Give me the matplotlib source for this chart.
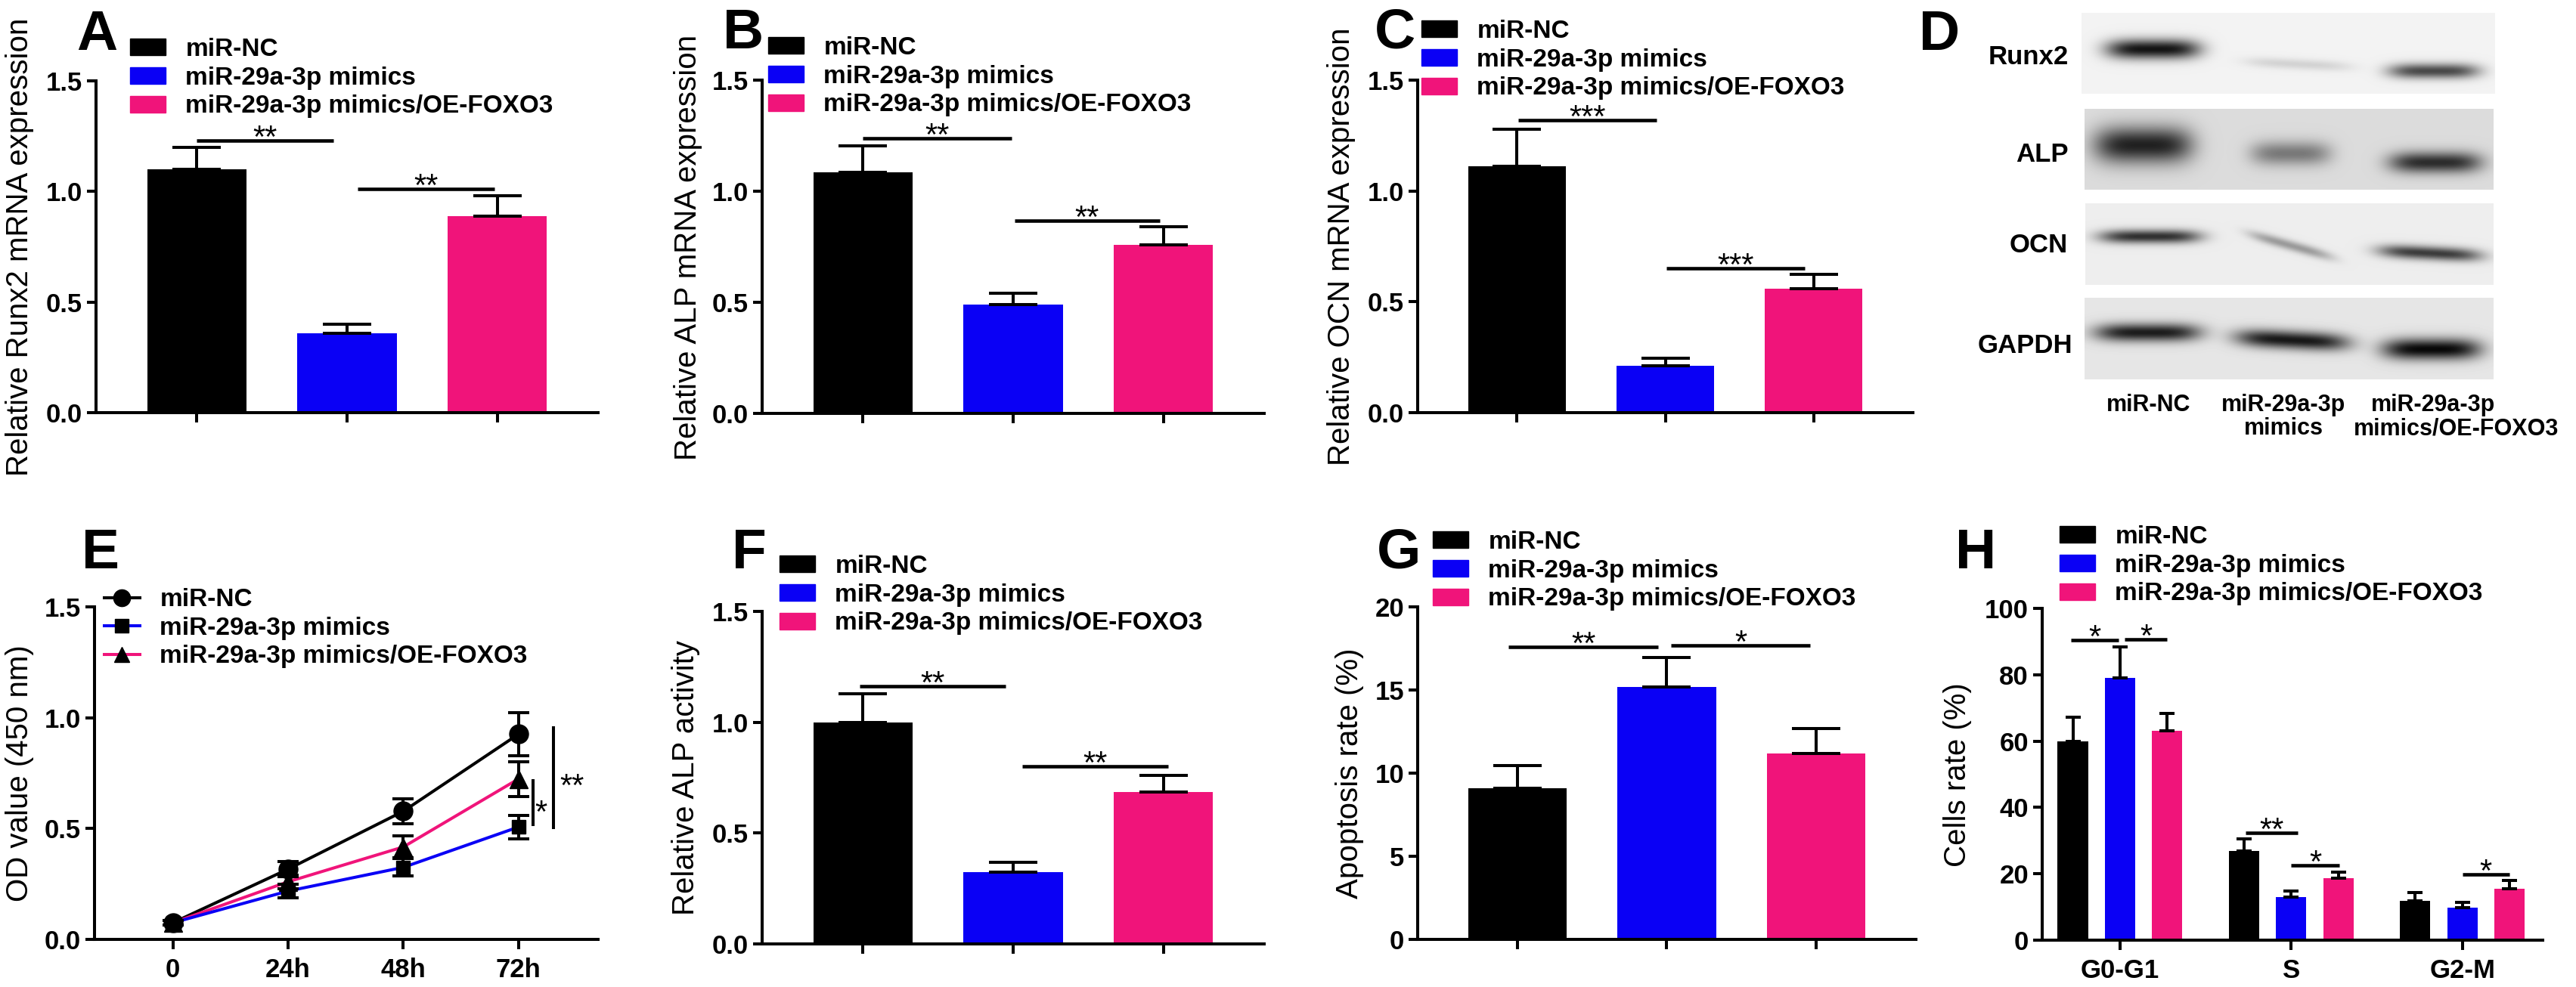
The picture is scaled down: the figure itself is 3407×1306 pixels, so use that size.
import numpy as np
import matplotlib.pyplot as plt
from matplotlib.patches import Patch
from matplotlib.lines import Line2D

plt.rcParams['font.family'] = ['Liberation Sans', 'DejaVu Sans']

W, H = 3407, 1306

groups = ['miR-NC', 'miR-29a-3p mimics', 'miR-29a-3p mimics/OE-FOXO3']
colors = ['#000000', '#0A00F5', '#F0147A']

# bar panels (mean, SD)
runx2 = [1.10, 0.36, 0.89]
runx2_err = [0.10, 0.04, 0.09]
alp_mrna = [1.085, 0.49, 0.76]
alp_mrna_err = [0.12, 0.05, 0.08]
ocn = [1.11, 0.21, 0.56]
ocn_err = [0.17, 0.035, 0.065]
alp_act = [1.00, 0.325, 0.685]
alp_act_err = [0.13, 0.043, 0.075]
apoptosis = [9.1, 15.2, 11.2]
apoptosis_err = [1.35, 1.75, 1.5]

# significance bars: (x from, x to, y, text)
sig_a = [(0.0, 0.91, 1.23, '**'), (1.07, 1.98, 1.01, '**')]
sig_b = [(0.0, 0.99, 1.237, '**'), (1.01, 1.975, 0.868, '**')]
sig_c = [(0.01, 0.94, 1.32, '***'), (1.01, 1.94, 0.65, '***')]
sig_f = [(-0.02, 0.95, 1.163, '**'), (1.06, 2.03, 0.80, '**')]
sig_g = [(-0.06, 0.94, 17.6, '**'), (1.03, 1.96, 17.7, '*')]
sig_h = [(-0.287, -0.01, 90.5, '*'), (0.026, 0.274, 90.7, '*'),
         (0.733, 1.037, 32.4, '**'), (1.0, 1.28, 22.6, '*'), (2.0, 2.274, 19.8, '*')]

# E: OD value over time
time_labels = ['0', '24h', '48h', '72h']
od_nc = [0.075, 0.317, 0.578, 0.926]
od_nc_err = [0.01, 0.035, 0.057, 0.096]
od_mim = [0.075, 0.218, 0.325, 0.507]
od_mim_err = [0.01, 0.03, 0.04, 0.053]
od_oe = [0.075, 0.26, 0.417, 0.724]
od_oe_err = [0.01, 0.03, 0.05, 0.078]

# H: cell cycle
phases = ['G0-G1', 'S', 'G2-M']
cycle_nc = [60.0, 26.9, 11.8]
cycle_nc_err = [7.3, 3.6, 2.5]
cycle_mim = [79.1, 12.9, 9.7]
cycle_mim_err = [9.2, 1.9, 1.7]
cycle_oe = [63.0, 18.6, 15.4]
cycle_oe_err = [5.4, 1.9, 2.7]

# D: western blot band darkness per lane
blot_proteins = ['Runx2', 'ALP', 'OCN', 'GAPDH']
blot_intensity = [[0.92, 0.13, 0.70],
                  [0.85, 0.45, 0.80],
                  [0.80, 0.35, 0.75],
                  [0.88, 0.90, 0.97]]

LW = 2.9
fig = plt.figure(figsize=(W / 100, H / 100), dpi=100)


def px_axes(x0, x1, y0, y1):
    return fig.add_axes([x0 / W, 1 - y1 / H, (x1 - x0) / W, (y1 - y0) / H])


def style(ax):
    ax.spines[['top', 'right']].set_visible(False)
    ax.spines[['left', 'bottom']].set_linewidth(LW)
    ax.tick_params(axis='both', width=LW, length=9, direction='out')
    ax.tick_params(axis='y', pad=4)
    ax.tick_params(axis='x', pad=8)


def legend(ax, handles, x, y, hl=1.4):
    ax.legend(handles, groups, loc='upper left', bbox_to_anchor=(x / W, 1 - y / H),
              bbox_transform=fig.transFigure, frameon=False,
              prop={'weight': 'bold', 'size': 24}, handlelength=hl, handleheight=0.65,
              handletextpad=0.8, labelspacing=0.2, borderpad=0, borderaxespad=0)


def stars(ax, x, y, s, above=11):
    ax.annotate(s, (x, y), xytext=(0, above - 0.58 * 30), textcoords='offset points',
                ha='center', va='baseline', fontsize=30, annotation_clip=False)


def sig(ax, items):
    for x1, x2, y, s in items:
        ax.plot([x1, x2], [y, y], color='k', lw=LW + 0.4, clip_on=False, solid_capstyle='butt')
        stars(ax, (x1 + x2) / 2, y, s)


def ylab(text, x, y):
    fig.text(x / W, 1 - y / H, text, rotation=90, ha='center', va='center', fontsize=29)


def letter(s, x, y):
    fig.text(x / W, 1 - y / H, s, ha='center', va='baseline', fontsize=54, fontweight='bold')


bar_panels = [
    dict(box=(127, 791, 107, 546), m=runx2, e=runx2_err, ymax=1.5, step=0.5, fmt='{:.1f}',
         yl='Relative Runx2 mRNA expression', yl_xy=(26, 327), leg=(172, 50),
         let='A', let_xy=(128, 66), sig=sig_a),
    dict(box=(1008, 1672, 106, 547), m=alp_mrna, e=alp_mrna_err, ymax=1.5, step=0.5, fmt='{:.1f}',
         yl='Relative ALP mRNA expression', yl_xy=(910, 327), leg=(1016, 48),
         let='B', let_xy=(983, 64), sig=sig_b),
    dict(box=(1875, 2530, 106, 546), m=ocn, e=ocn_err, ymax=1.5, step=0.5, fmt='{:.1f}',
         yl='Relative OCN mRNA expression', yl_xy=(1774, 326), leg=(1880, 26),
         let='C', let_xy=(1845, 64), sig=sig_c),
    dict(box=(1008, 1672, 809, 1249), m=alp_act, e=alp_act_err, ymax=1.5, step=0.5, fmt='{:.1f}',
         yl='Relative ALP activity', yl_xy=(907, 1029), leg=(1031, 734),
         let='F', let_xy=(991, 752), sig=sig_f),
    dict(box=(1875, 2534, 803, 1243), m=apoptosis, e=apoptosis_err, ymax=20, step=5, fmt='{:.0f}',
         yl='Apoptosis rate (%)', yl_xy=(1785, 1023), leg=(1895, 702),
         let='G', let_xy=(1850, 752), sig=sig_g),
]

for p in bar_panels:
    ax = px_axes(*p['box'])
    x = np.arange(3)
    ax.bar(x, p['m'], width=0.66, color=colors)
    ax.errorbar(x, p['m'], yerr=[np.zeros(3), p['e']], fmt='none', ecolor='k',
                elinewidth=LW, capsize=23, capthick=LW, clip_on=False)
    ax.set_xlim(-0.67, 2.67)
    ax.set_ylim(0, p['ymax'])
    ticks = np.arange(0, p['ymax'] + 1e-9, p['step'])
    ax.set_yticks(ticks, [p['fmt'].format(t) for t in ticks], fontsize=25, fontweight='bold')
    ax.set_xticks(x, ['', '', ''])
    style(ax)
    sig(ax, p['sig'])
    legend(ax, [Patch(color=c) for c in colors], *p['leg'])
    ylab(p['yl'], *p['yl_xy'])
    letter(p['let'], *p['let_xy'])

# E
ax = px_axes(125, 791, 803, 1243)
t = np.arange(4)
series = [(od_nc, od_nc_err, colors[0], 'o', 18), (od_oe, od_oe_err, colors[2], '^', 17),
          (od_mim, od_mim_err, colors[1], 's', 13.5)]
for vals, errs, c, mk, ms in series:
    ax.plot(t, vals, color=c, lw=LW, zorder=2)
for vals, errs, c, mk, ms in series:
    ax.errorbar(t, vals, yerr=errs, fmt='none', ecolor='k', elinewidth=LW,
                capsize=10, capthick=LW, zorder=3)
    ax.plot(t, vals, ls='none', marker=mk, ms=ms, mfc='k', mec='k', zorder=4)
ax.set_xlim(-0.68, 3.69)
ax.set_ylim(0, 1.5)
ax.set_yticks([0, 0.5, 1.0, 1.5], ['0.0', '0.5', '1.0', '1.5'], fontsize=25, fontweight='bold')
ax.set_xticks(t, time_labels, fontsize=25, fontweight='bold')
style(ax)
ax.plot([3.125, 3.125], [0.517, 0.716], color='k', lw=LW, clip_on=False)
ax.plot([3.30, 3.30], [0.503, 0.954], color='k', lw=LW, clip_on=False)
stars(ax, 3.195, 0.61, '*', above=0)
stars(ax, 3.466, 0.73, '**', above=0)
legend(ax, [Line2D([], [], color=c, marker=mk, ms=ms, mfc='k', mec='k', lw=LW)
            for c, mk, ms in zip(colors, ['o', 's', '^'], [16, 13, 15])], 138, 778)
ylab('OD value (450 nm)', 26, 1023)
letter('E', 133, 752)

# H
ax = px_axes(2701, 3363, 805, 1244)
g = np.arange(3)
off = 0.276
for k, (vals, errs) in enumerate([(cycle_nc, cycle_nc_err), (cycle_mim, cycle_mim_err),
                                  (cycle_oe, cycle_oe_err)]):
    xs = g + (k - 1) * off
    ax.bar(xs, vals, width=0.177, color=colors[k])
    ax.errorbar(xs, vals, yerr=[np.zeros(3), errs], fmt='none', ecolor='k',
                elinewidth=LW, capsize=7, capthick=LW)
ax.set_xlim(-0.455, 2.47)
ax.set_ylim(0, 100)
ax.set_yticks(np.arange(0, 101, 20), [str(v) for v in range(0, 101, 20)],
              fontsize=25, fontweight='bold')
ax.set_xticks(g, phases, fontsize=25, fontweight='bold')
style(ax)
sig(ax, sig_h)
legend(ax, [Patch(color=c) for c in colors], 2724, 695)
ylab('Cells rate (%)', 2589, 1025)
letter('H', 2613, 752)

# D: western blot
bx0, bx1, by0, by1 = 2740, 3310, 5, 515
ax = px_axes(bx0, bx1, by0, by1)
xx, yy = np.meshgrid(np.arange(bx0, bx1) + 0.5, np.arange(by0, by1) + 0.5)
img = np.ones_like(xx)
strips = [(2753, 3300, 17, 124, 0.95), (2757, 3298, 144, 251, 0.86),
          (2758, 3298, 269, 377, 0.93), (2757, 3298, 394, 502, 0.90)]
band_geom = [
    [(2848, 65, 62, 13, 0), (3040, 85, 70, 7, 0.05), (3219, 94, 60, 10, 0)],
    [(2835, 192, 65, 24, 0), (3030, 203, 53, 16, 0), (3221, 215, 61, 14, 0)],
    [(2844, 313, 67, 9, 0), (3030, 325, 55, 7, 0.28), (3214, 335, 68, 9, 0.05)],
    [(2841, 440, 70, 12, 0), (3032, 450, 75, 12, 0.05), (3216, 462, 65, 14, 0)],
]
for (x0, x1, y0, y1, bg), geoms, dark in zip(strips, band_geom, blot_intensity):
    inside = (xx >= x0) & (xx <= x1) & (yy >= y0) & (yy <= y1)
    strip = np.full_like(xx, bg)
    for (cx, cy, hw, hh, tilt), d in zip(geoms, dark):
        dx = (xx - cx) / hw
        dy = (yy - cy - tilt * (xx - cx)) / hh
        strip *= 1 - d * np.exp(-dx ** 4 - dy ** 2)
    img[inside] = strip[inside]
ax.imshow(img, cmap='gray', vmin=0, vmax=1, extent=(bx0, bx1, by1, by0),
          aspect='auto', interpolation='bilinear')
ax.set_xlim(bx0, bx1)
ax.set_ylim(by1, by0)
ax.axis('off')
for name, (xr, yb) in zip(blot_proteins, [(2736, 85), (2736, 214), (2735, 334), (2741, 467)]):
    fig.text(xr / W, 1 - yb / H, name, ha='right', va='baseline', fontsize=25, fontweight='bold')
lane_text = [(2842, 544, 'miR-NC'), (3020, 544, 'miR-29a-3p'), (3020, 575, 'mimics'),
             (3218, 544, 'miR-29a-3p'), (3249, 575, 'mimics/OE-FOXO3')]
for xc, yb, s in lane_text:
    fig.text(xc / W, 1 - yb / H, s, ha='center', va='baseline', fontsize=22, fontweight='bold')
letter('D', 2565, 66)

fig.savefig('out.png', dpi=100, facecolor='white')
